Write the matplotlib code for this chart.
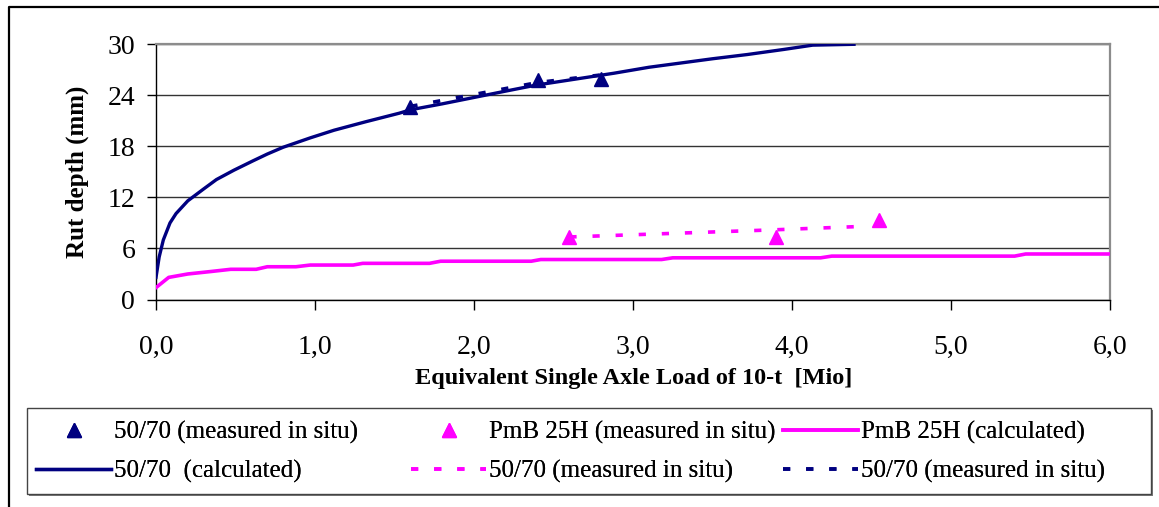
import matplotlib
matplotlib.use("Agg")
import matplotlib.pyplot as plt
from matplotlib.patches import Rectangle
from matplotlib.lines import Line2D
from matplotlib.ticker import FuncFormatter

# ---------------- data ----------------
calc_5070_x = [0.0, 0.02, 0.046, 0.088, 0.126, 0.2, 0.3, 0.38, 0.49, 0.61, 0.70, 0.80,
               0.97, 1.12, 1.32, 1.53, 1.60, 1.80, 2.04, 2.20, 2.39, 2.60, 2.88, 3.10,
               3.30, 3.50, 3.72, 3.95, 4.13, 4.39]
calc_5070_y = [2.6, 5.0, 7.0, 9.0, 10.1, 11.6, 13.0, 14.1, 15.2, 16.3, 17.1, 17.9,
               19.0, 19.9, 20.9, 21.9, 22.3, 23.0, 23.9, 24.5, 25.2, 25.8, 26.6, 27.3,
               27.8, 28.3, 28.8, 29.4, 29.9, 30.0]

calc_pmb_x = [0.0, 0.08, 0.2, 0.35, 0.47, 0.63, 0.70, 0.88, 0.97, 1.24, 1.30, 1.72,
              1.79, 2.36, 2.42, 3.18, 3.25, 4.18, 4.25, 5.40, 5.47, 6.0]
calc_pmb_y = [1.4, 2.6, 3.0, 3.3, 3.55, 3.55, 3.85, 3.85, 4.05, 4.05, 4.25, 4.25,
              4.5, 4.5, 4.7, 4.7, 4.9, 4.9, 5.1, 5.1, 5.35, 5.35]

meas_5070_x = [1.6, 2.4, 2.8]
meas_5070_y = [22.6, 25.8, 25.9]
meas_pmb_x = [2.6, 3.9, 4.55]
meas_pmb_y = [7.4, 7.3, 9.4]

trend_5070_x = [1.6, 2.4, 2.8]
trend_5070_y = [22.7, 25.5, 26.4]
trend_pmb_x = [2.6, 3.9, 4.45]
trend_pmb_y = [7.35, 8.2, 8.6]

x_ticks = [0, 1, 2, 3, 4, 5, 6]
y_ticks = [0, 6, 12, 18, 24, 30]

label_meas_5070 = "50/70 (measured in situ)"
label_meas_pmb = "PmB 25H (measured in situ)"
label_calc_pmb = "PmB 25H (calculated)"
label_calc_5070 = "50/70  (calculated)"
label_trend_pmb = "50/70 (measured in situ)"
label_trend_5070 = "50/70 (measured in situ)"

# ---------------- style ----------------
NAVY = "#000080"
MAG = "#FF00FF"
W, H, DPI = 1159, 507, 100
plt.rcParams["font.family"] = ["Liberation Serif", "DejaVu Serif"]

fig = plt.figure(figsize=(W / DPI, H / DPI), dpi=DPI)
fig.patch.set_facecolor("white")

def px(x0, y0, x1, y1):
    return [x0 / W, 1 - y1 / H, (x1 - x0) / W, (y1 - y0) / H]

ax = fig.add_axes(px(156, 44.3, 1110, 299.5))

ln_calc_5070, = ax.plot(calc_5070_x, calc_5070_y, color=NAVY, lw=2.4,
                        solid_joinstyle="round", zorder=4)
ln_calc_pmb, = ax.plot(calc_pmb_x, calc_pmb_y, color=MAG, lw=2.6, zorder=4)
ln_trend_pmb, = ax.plot(trend_pmb_x, trend_pmb_y, color=MAG, lw=2.6,
                        dashes=(2, 4.4), dash_capstyle="butt", zorder=3)
ln_trend_5070, = ax.plot(trend_5070_x, trend_5070_y, color=NAVY, lw=2.6,
                         dashes=(2, 4.4), dash_capstyle="butt", zorder=3)
ln_meas_5070, = ax.plot(meas_5070_x, meas_5070_y, ls="none", marker="^",
                        ms=10, color=NAVY, zorder=5)
ln_meas_pmb, = ax.plot(meas_pmb_x, meas_pmb_y, ls="none", marker="^",
                       ms=10, color=MAG, zorder=5)

ax.set_xlim(0, 6)
ax.set_ylim(0, 30)
ax.set_xticks(x_ticks)
ax.set_yticks(y_ticks)
ax.xaxis.set_major_formatter(FuncFormatter(lambda v, p: f"{v:.1f}".replace(".", ",")))
ax.yaxis.grid(True, color="#333333", lw=1.0)
ax.set_axisbelow(True)
ax.tick_params(axis="y", direction="out", length=6.5, width=1, pad=8.5,
               labelsize=20, color="black")
ax.tick_params(axis="x", direction="out", length=7.2, width=1, pad=18,
               labelsize=20, color="black")
for s in ("top", "right"):
    ax.spines[s].set_color("#8c8c8c")
    ax.spines[s].set_linewidth(1.6)
for s in ("left", "bottom"):
    ax.spines[s].set_color("black")
    ax.spines[s].set_linewidth(1.0)

ax.set_ylabel("Rut depth (mm)", fontsize=18, fontweight="bold")
ax.yaxis.set_label_coords((89 - 156) / 954, 0.5)
ax.set_xlabel("Equivalent Single Axle Load of 10-t  [Mio]", fontsize=17.5,
              fontweight="bold")
ax.xaxis.set_label_coords((634 - 156) / 954, -(368 - 299.5) / 255.2)

# ---------------- legend ----------------
fs = 18
top_px = 421
cols = [
    (36, [ln_meas_5070, ln_calc_5070], [label_meas_5070, label_calc_5070]),
    (411, [ln_meas_pmb, ln_trend_pmb], [label_meas_pmb, label_trend_pmb]),
    (783, [ln_calc_pmb, ln_trend_5070], [label_calc_pmb, label_trend_5070]),
]
for xpx, hs, ls in cols:
    lg = fig.legend(hs, ls, loc="upper left", bbox_to_anchor=(xpx / W, 1 - top_px / H),
                    bbox_transform=fig.transFigure, frameon=False, fontsize=fs,
                    handlelength=3.0, handletextpad=0.12, borderpad=0,
                    borderaxespad=0, labelspacing=0.62, numpoints=1)
    fig.add_artist(lg)

# legend box with shadow
fig.add_artist(Rectangle((29 / W, 1 - 496 / H), (1151 - 27) / W, (494 - 408) / H,
                         transform=fig.transFigure, facecolor="#7a7a7a",
                         edgecolor="none", zorder=0))
fig.add_artist(Rectangle((27 / W, 1 - 494 / H), (1151 - 27) / W, (494 - 408) / H,
                         transform=fig.transFigure, facecolor="white",
                         edgecolor="#444444", lw=1.0, zorder=0.5))

# outer frame (top and left visible)
fig.add_artist(Line2D([9 / W, 9 / W, 1.01], [-0.01, 1 - 7 / H, 1 - 7 / H],
                      transform=fig.transFigure, color="black", lw=1.6))

fig.savefig("out.png", dpi=DPI, facecolor="white")
